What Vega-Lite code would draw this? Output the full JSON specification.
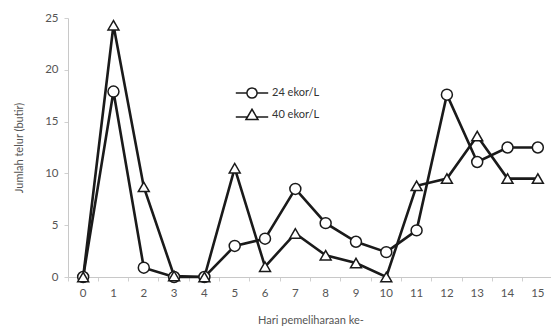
{
  "$schema": "https://vega.github.io/schema/vega-lite/v6.json",
  "width": 485,
  "height": 259,
  "autosize": "none",
  "padding": {"left": 68, "top": 18, "right": 0, "bottom": 59},
  "background": "white",
  "data": {"values": [
    {"hari": 0, "seri": "24 ekor/L", "telur": 0},
    {"hari": 1, "seri": "24 ekor/L", "telur": 17.9},
    {"hari": 2, "seri": "24 ekor/L", "telur": 0.9},
    {"hari": 3, "seri": "24 ekor/L", "telur": 0},
    {"hari": 4, "seri": "24 ekor/L", "telur": 0},
    {"hari": 5, "seri": "24 ekor/L", "telur": 3.0},
    {"hari": 6, "seri": "24 ekor/L", "telur": 3.7},
    {"hari": 7, "seri": "24 ekor/L", "telur": 8.5},
    {"hari": 8, "seri": "24 ekor/L", "telur": 5.2},
    {"hari": 9, "seri": "24 ekor/L", "telur": 3.4},
    {"hari": 10, "seri": "24 ekor/L", "telur": 2.4},
    {"hari": 11, "seri": "24 ekor/L", "telur": 4.5},
    {"hari": 12, "seri": "24 ekor/L", "telur": 17.6},
    {"hari": 13, "seri": "24 ekor/L", "telur": 11.1},
    {"hari": 14, "seri": "24 ekor/L", "telur": 12.5},
    {"hari": 15, "seri": "24 ekor/L", "telur": 12.5},
    {"hari": 0, "seri": "40 ekor/L", "telur": 0},
    {"hari": 1, "seri": "40 ekor/L", "telur": 24.3},
    {"hari": 2, "seri": "40 ekor/L", "telur": 8.7},
    {"hari": 3, "seri": "40 ekor/L", "telur": 0.1},
    {"hari": 4, "seri": "40 ekor/L", "telur": 0},
    {"hari": 5, "seri": "40 ekor/L", "telur": 10.5},
    {"hari": 6, "seri": "40 ekor/L", "telur": 1.0},
    {"hari": 7, "seri": "40 ekor/L", "telur": 4.2},
    {"hari": 8, "seri": "40 ekor/L", "telur": 2.1},
    {"hari": 9, "seri": "40 ekor/L", "telur": 1.35},
    {"hari": 10, "seri": "40 ekor/L", "telur": 0},
    {"hari": 11, "seri": "40 ekor/L", "telur": 8.8},
    {"hari": 12, "seri": "40 ekor/L", "telur": 9.5},
    {"hari": 13, "seri": "40 ekor/L", "telur": 13.6},
    {"hari": 14, "seri": "40 ekor/L", "telur": 9.5},
    {"hari": 15, "seri": "40 ekor/L", "telur": 9.5}
  ]},
  "encoding": {
    "x": {
      "field": "hari", "type": "ordinal",
      "scale": {"type": "band", "paddingInner": 0, "paddingOuter": 0},
      "axis": {
        "title": "Hari pemeliharaan ke-", "labelAngle": 0, "labelPadding": 6,
        "bandPosition": 0, "tickSize": 4, "titlePadding": 16,
        "domainColor": "#c8c8c8", "tickColor": "#d0d0d0",
        "labelColor": "#555555", "titleColor": "#555555",
        "labelFontSize": 11.5, "titleFontSize": 11, "titleFontWeight": "normal",
        "labelFont": "Lato", "titleFont": "Lato"
      }
    },
    "y": {
      "field": "telur", "type": "quantitative",
      "scale": {"domain": [0, 25]},
      "axis": {
        "title": "Jumlah telur (butir)", "values": [0, 5, 10, 15, 20, 25],
        "grid": false, "tickSize": 4, "labelPadding": 6, "titlePadding": 20,
        "domainColor": "#c8c8c8", "tickColor": "#d0d0d0",
        "labelColor": "#555555", "titleColor": "#555555",
        "labelFontSize": 11.5, "titleFontSize": 11, "titleFontWeight": "normal",
        "labelFont": "Lato", "titleFont": "Lato"
      }
    }
  },
  "layer": [
    {
      "mark": {"type": "line", "color": "#1a1a1a", "strokeWidth": 2.6},
      "encoding": {"detail": {"field": "seri"}}
    },
    {
      "mark": {"type": "point", "filled": false, "fill": "white", "fillOpacity": 1, "stroke": "#1a1a1a", "strokeWidth": 1.5, "size": 120, "opacity": 1},
      "encoding": {
        "shape": {
          "field": "seri", "type": "nominal",
          "scale": {"domain": ["24 ekor/L", "40 ekor/L"], "range": ["circle", "triangle-up"]},
          "legend": null
        }
      }
    },
    {
      "transform": [{"filter": "datum.hari < 0"}],
      "mark": {"type": "point", "filled": false, "fill": "white", "fillOpacity": 1, "stroke": "#1a1a1a", "strokeWidth": 2.2, "size": 144, "opacity": 1},
      "encoding": {
        "shape": {
          "field": "seri", "type": "nominal",
          "scale": {"domain": ["24 ekor/L", "40 ekor/L"], "range": [
            "M-2.7,0H-0.85M0.85,0H2.7M-0.85,0A0.85,0.85,0,1,1,0.85,0A0.85,0.85,0,1,1,-0.85,0Z",
            "M-2.7,0.35H-0.76M0.76,0.35H2.7M-1,0.75L0,-0.95L1,0.75Z"
          ]},
          "legend": {
            "title": null, "orient": "none", "legendX": 177, "legendY": 68,
            "padding": 0, "rowPadding": 4, "symbolSize": 144,
            "labelFontSize": 11, "labelFont": "Lato", "labelColor": "#333333", "labelOffset": 13,
            "encode": {"symbols": {"update": {
              "fill": {"value": "white"},
              "stroke": {"value": "#1a1a1a"},
              "strokeWidth": {"value": 2.2},
              "opacity": {"value": 1},
              "fillOpacity": {"value": 1},
              "strokeOpacity": {"value": 1},
              "size": {"value": 144}
            }}}
          }
        }
      }
    }
  ],
  "resolve": {"scale": {"shape": "independent"}, "legend": {"shape": "independent"}},
  "config": {"view": {"stroke": null}}
}
